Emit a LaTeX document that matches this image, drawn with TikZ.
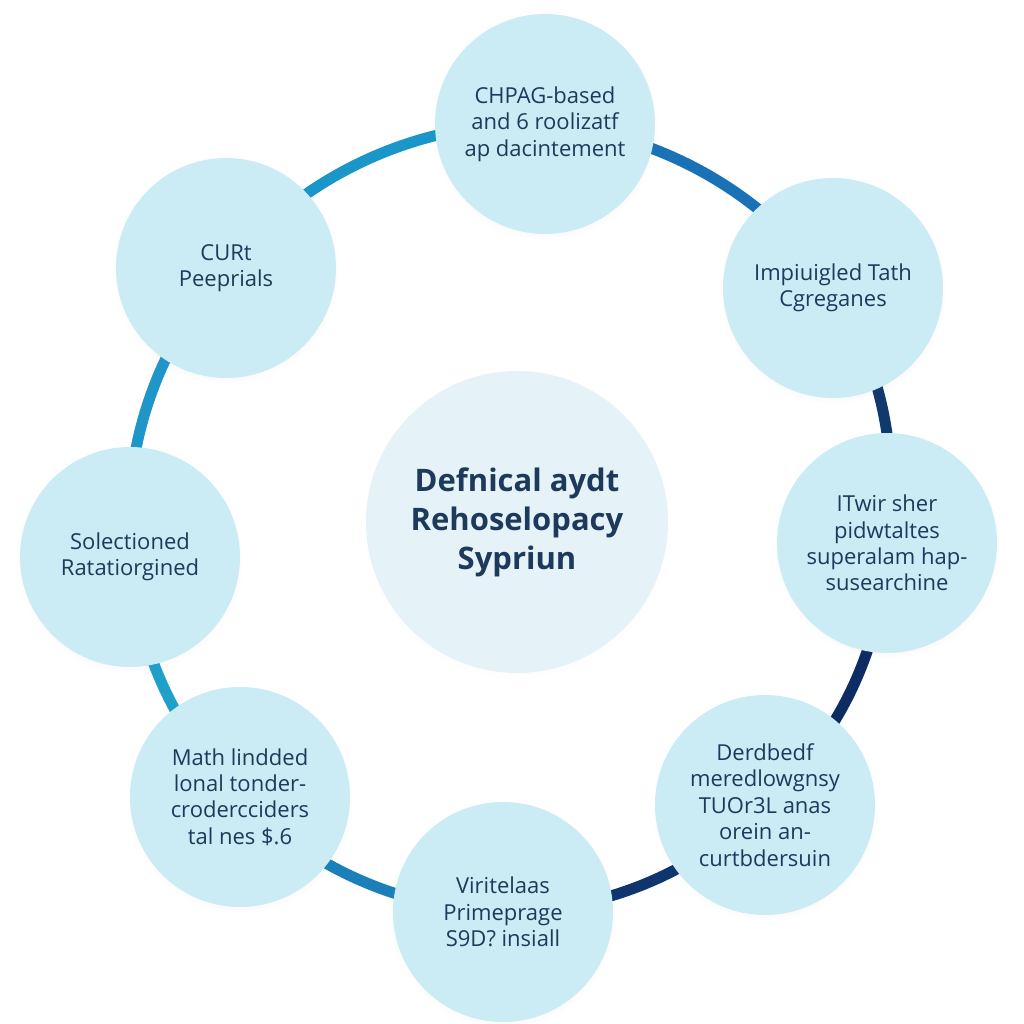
\documentclass[tikz,border=0pt]{standalone}
\usepackage{fontspec}
\setmainfont{Open Sans}
\usetikzlibrary{backgrounds,shadows}
\definecolor{txt}{HTML}{1D3A5C}
\definecolor{bub}{HTML}{CBECF4}
\definecolor{hub}{HTML}{E5F3F8}
\definecolor{cA}{HTML}{1A96C8}
\definecolor{cB}{HTML}{1A72B6}
\definecolor{cC}{HTML}{103A6E}
\definecolor{cD}{HTML}{0D2C63}
\definecolor{cE}{HTML}{0E356E}
\definecolor{cF}{HTML}{1B80BA}
\definecolor{cG}{HTML}{1EA0C9}
\definecolor{cH}{HTML}{1E96C8}
\tikzset{
  bubble/.style={circle, fill=bub, minimum size=110pt, inner sep=0pt, align=center,
    text=txt, font=\fontsize{11}{13.2}\selectfont,
    circular drop shadow={opacity=0.08, shadow xshift=0pt, shadow yshift=-1.5pt, shadow scale=1.03}},
  hubnode/.style={circle, fill=hub, minimum size=151pt, inner sep=0pt, align=center,
    text=txt, font=\fontsize{15.5}{19.5}\selectfont\bfseries,
    circular drop shadow={opacity=0.05, shadow xshift=0pt, shadow yshift=-1.5pt, shadow scale=1.02}},
  ring/.style={line width=5.5pt, looseness=0.9}
}
\begin{document}
\begin{tikzpicture}[x=0.5pt,y=0.5pt]
\useasboundingbox (0,0) rectangle (1024,1024);
\node[hubnode] (c) at (517,502) {Defnical aydt\\Rehoselopacy\\Sypriun};
\node[bubble] (top) at (545,900) {CHPAG-based\\and 6 roolizatf\\ap dacintement};
\node[bubble] (tr) at (833,736) {Impiuigled Tath\\Cgreganes};
\node[bubble] (r) at (887,481) {ITwir sher\\pidwtaltes\\superalam hap-\\susearchine};
\node[bubble] (br) at (765,219) {Derdbedf\\meredlowgnsy\\TUOr3L anas\\orein an-\\curtbdersuin};
\node[bubble] (b) at (503,112) {Viritelaas\\Primeprage\\S9D? insiall};
\node[bubble] (bl) at (240,227) {Math lindded\\lonal tonder-\\crodercciders\\tal nes \$.6};
\node[bubble] (l) at (130,467) {Solectioned\\Ratatiorgined};
\node[bubble] (tl) at (226,756) {CURt\\Peeprials};
\begin{scope}[on background layer]
\fill[white] (0,0) rectangle (1024,1024);
\draw[ring, cA] (tl.center) to[bend left=26.3] (top.center);
\draw[ring, cB] (top.center) to[bend left=24.6] (tr.center);
\draw[ring, cC] (tr.center) to[bend left=19.9] (r.center);
\draw[ring, cD] (r.center) to[bend left=22.9] (br.center);
\draw[ring, cE] (br.center) to[bend left=21.7] (b.center);
\draw[ring, cF] (b.center) to[bend left=21.8] (bl.center);
\draw[ring, cG] (bl.center) to[bend left=19.9] (l.center);
\draw[ring, cH] (l.center) to[bend left=23] (tl.center);
\end{scope}
\end{tikzpicture}
\end{document}
